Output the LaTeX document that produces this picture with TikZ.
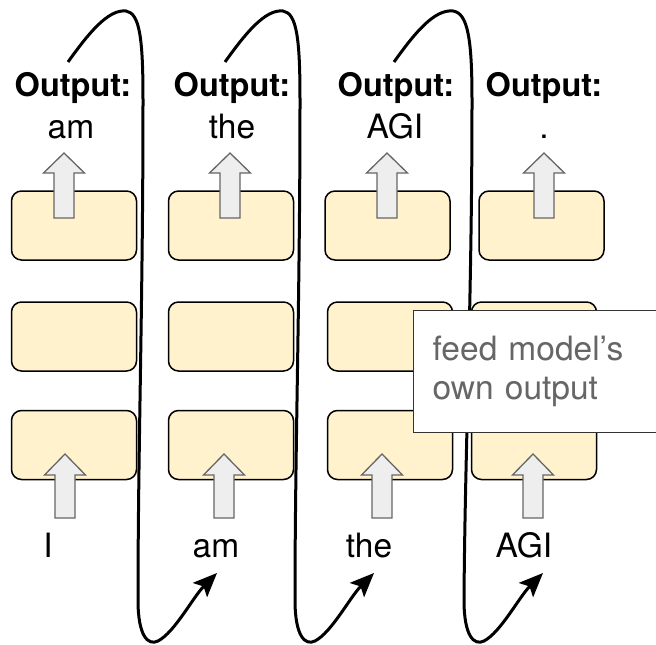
\documentclass[tikz,border=0pt]{standalone}
\usepackage{fontspec}
\setmainfont{TeX Gyre Heros}
\usetikzlibrary{arrows.meta}
\definecolor{blockfill}{HTML}{FFF2CC}
\definecolor{flowfill}{HTML}{EEEEEE}
\definecolor{flowline}{HTML}{666666}
\definecolor{notegray}{HTML}{666666}

\begin{document}
\begin{tikzpicture}[x=1pt, y=-1pt,
    layer/.style={draw=black, fill=blockfill, rounded corners=10pt, line width=1.5pt,
      minimum width=125pt, minimum height=69pt, inner sep=0pt},
    outlabel/.style={anchor=base, inner sep=0pt, font=\fontsize{32.5}{38}\selectfont\bfseries},
    token/.style={anchor=base, inner sep=0pt, font=\fontsize{33.5}{38}\selectfont},
    flow/.style={draw=flowline, fill=flowfill, line width=1.3pt},
    feedback/.style={line width=3pt, -{Stealth[length=24pt, width=20pt, inset=5pt]}},
    note/.style={draw=black!80, fill=white, line width=1.3pt, anchor=north west,
      minimum width=260pt, minimum height=122pt, inner xsep=19pt, text width=222pt,
      align=left, text=notegray, font=\fontsize{33.5}{39}\selectfont}]

  \useasboundingbox (0,0) rectangle (656,645);

  % 三层方块 (每列一个时间步)
  \node[layer] (l11) at (74,225.5) {};   \node[layer] (l12) at (74,336.5) {};   \node[layer] (l13) at (74,445) {};
  \node[layer] (l21) at (231,225.5) {};  \node[layer] (l22) at (231,336.5) {};  \node[layer] (l23) at (231,445) {};
  \node[layer] (l31) at (387.5,225.5) {}; \node[layer] (l32) at (390,336.5) {}; \node[layer] (l33) at (390,445) {};
  \node[layer] (l41) at (541.5,225.5) {}; \node[layer] (l42) at (534,336.5) {}; \node[layer] (l43) at (534,445) {};

  % 输出方向的粗箭头
  \draw[flow] (64,153) -- ++(20.5,20) -- ++(-10.5,0) -- ++(0,45) -- ++(-20,0) -- ++(0,-45) -- ++(-10.5,0) -- cycle;
  \draw[flow] (230,153) -- ++(20.5,20) -- ++(-10.5,0) -- ++(0,45) -- ++(-20,0) -- ++(0,-45) -- ++(-10.5,0) -- cycle;
  \draw[flow] (387,153) -- ++(20.5,20) -- ++(-10.5,0) -- ++(0,45) -- ++(-20,0) -- ++(0,-45) -- ++(-10.5,0) -- cycle;
  \draw[flow] (544,153) -- ++(20.5,20) -- ++(-10.5,0) -- ++(0,45) -- ++(-20,0) -- ++(0,-45) -- ++(-10.5,0) -- cycle;

  % 输入方向的粗箭头
  \draw[flow] (65,454) -- ++(20.5,21) -- ++(-10.5,0) -- ++(0,43) -- ++(-20,0) -- ++(0,-43) -- ++(-10.5,0) -- cycle;
  \draw[flow] (224,454) -- ++(20.5,21) -- ++(-10.5,0) -- ++(0,43) -- ++(-20,0) -- ++(0,-43) -- ++(-10.5,0) -- cycle;
  \draw[flow] (382,454) -- ++(20.5,21) -- ++(-10.5,0) -- ++(0,43) -- ++(-20,0) -- ++(0,-43) -- ++(-10.5,0) -- cycle;
  \draw[flow] (533,454) -- ++(20.5,21) -- ++(-10.5,0) -- ++(0,43) -- ++(-20,0) -- ++(0,-43) -- ++(-10.5,0) -- cycle;

  % 顶部输出文字
  \node[outlabel] (o1) at (73,96) {Output:};
  \node[outlabel] (o2) at (232,96) {Output:};
  \node[outlabel] (o3) at (396,96) {Output:};
  \node[outlabel] (o4) at (544,96) {Output:};
  \node[token] (w1) at (71,138) {am};
  \node[token] (w2) at (232,138) {the};
  \node[token] (w3) at (395,138) {AGI};
  \node[token] (w4) at (544,138) {.};

  % 底部输入词
  \node[token] (i1) at (48,557) {I};
  \node[token] (i2) at (216,557) {am};
  \node[token] (i3) at (369,557) {the};
  \node[token] (i4) at (524,557) {AGI};

  % 回送线: 上一步输出 -> 下一步输入
  \coordinate (s1) at (68,62);   \coordinate (e1) at (217,573);
  \coordinate (s2) at (225,62);  \coordinate (e2) at (374,573);
  \coordinate (s3) at (394,62);  \coordinate (e3) at (543,573);
  \draw[feedback] (s1) .. controls (88,34) and (108,9) .. (126,11) .. controls (140,13) and (143,40) .. (143,100)
    .. controls (143,300) and (138,450) .. (138,600) .. controls (138,636) and (148,646) .. (158,641)
    .. controls (175,632) and (193,597) .. (e1);
  \draw[feedback] (s2) .. controls (245,34) and (265,9) .. (283,11) .. controls (297,13) and (300,40) .. (300,100)
    .. controls (300,300) and (295,450) .. (295,600) .. controls (295,636) and (305,646) .. (315,641)
    .. controls (332,632) and (350,597) .. (e2);
  \draw[feedback] (s3) .. controls (414,34) and (434,9) .. (453,11) .. controls (468,13) and (472,40) .. (472,100)
    .. controls (472,300) and (465,450) .. (464,600) .. controls (464,636) and (474,646) .. (484,641)
    .. controls (501,632) and (519,597) .. (e3);

  % 说明框 (压在最上层)
  \node[note] (feed) at (413,310) {feed model's\\own output};

\end{tikzpicture}
\end{document}
